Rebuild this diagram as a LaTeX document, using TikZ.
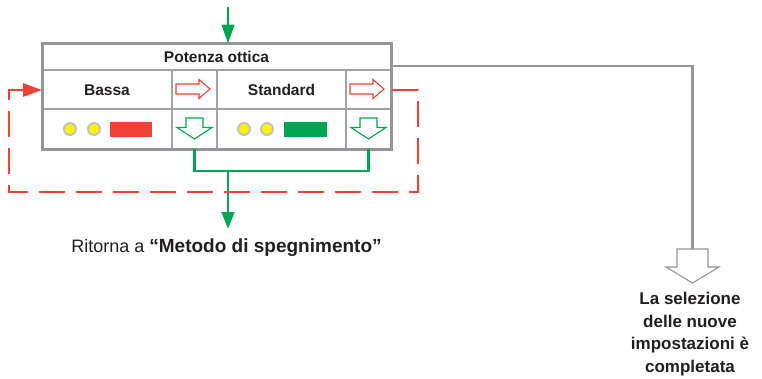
\documentclass[tikz,border=0pt]{standalone}
\usepackage{fontspec}
\setmainfont{Liberation Sans}
\usetikzlibrary{arrows.meta}
\definecolor{tgray}{RGB}{147,149,152}
\definecolor{lgray}{RGB}{160,162,165}
\definecolor{ringgray}{RGB}{195,195,195}
\definecolor{ggreen}{RGB}{0,166,81}
\definecolor{rred}{RGB}{239,65,54}
\definecolor{yyellow}{RGB}{255,242,0}
\definecolor{txt}{RGB}{35,31,32}
\begin{document}
\begin{tikzpicture}[x=1pt,y=-1pt,
  lbl/.style={text=txt,font=\bfseries\fontsize{15.5}{18}\selectfont,inner sep=0},
  grid/.style={draw=lgray,line width=1.4},
  dot/.style={fill=yyellow,draw=ringgray,line width=2},
  greenline/.style={draw=ggreen,line width=2.7},
  redloop/.style={draw=rred,line width=2.8,dash pattern=on 26pt off 11pt},
  rarrow/.pic={\draw[rred,line width=1.1,line join=miter]
      (-17,-5) -- (6,-5) -- (6,-9.5) -- (17,0) -- (6,9.5) -- (6,5) -- (-17,5) -- cycle;},
  darrow/.pic={\draw[ggreen,line width=1.1,line join=miter]
      (-8.5,-10.5) -- (8.5,-10.5) -- (8.5,-1) -- (17.5,-1) -- (0,10.5) -- (-17.5,-1) -- (-8.5,-1) -- cycle;}
]
\useasboundingbox (0,0) rectangle (762,378);

% table grid
\draw[grid] (42,70) -- (391,70);
\draw[grid] (42,109) -- (391,109);
\draw[grid] (172,70) -- (172,149);
\draw[grid] (217,70) -- (217,149);
\draw[grid] (346,70) -- (346,149);
\node[draw=tgray,line width=3,minimum width=349,minimum height=106,inner sep=0] (tbl) at (216.5,96) {};

% texts
\node[lbl] (title) at (216.5,57) {Potenza ottica};
\node[lbl] (bassa) at (107,90) {Bassa};
\node[lbl] (standard) at (281.5,90) {Standard};

% hollow arrows in cells
\pic at (193,89) {rarrow};
\pic at (367,89) {rarrow};
\pic at (194.5,128.5) {darrow};
\pic at (368.5,128.5) {darrow};

% indicators
\draw[dot] (70,129) circle (6);
\draw[dot] (94,129) circle (6);
\fill[rred] (110,122) rectangle (152,136.5);
\draw[dot] (244,129) circle (6);
\draw[dot] (267,129) circle (6);
\fill[ggreen] (284,122) rectangle (327,136.5);

% coordinates for connectors
\coordinate (topin) at (228,7);
\coordinate (tbltop) at (228,43.5);
\coordinate (dl) at (194.5,149);
\coordinate (dr) at (368.5,149);
\coordinate (jl) at (194.5,171);
\coordinate (jr) at (368.5,171);
\coordinate (jm) at (228,171);
\coordinate (gout) at (228,229);
\coordinate (rstart) at (392,90);
\coordinate (rc1) at (418,90);
\coordinate (rc2) at (418,192);
\coordinate (rc3) at (9,192);
\coordinate (rc4) at (9,90);
\coordinate (rend) at (42,90);
\coordinate (gstart) at (391,66);
\coordinate (gc) at (692.5,66);

% green top arrow
\draw[greenline,-{Triangle[length=19pt,width=12.5pt]}] (topin) -- (tbltop);
% green return
\draw[greenline] (dl) -- (jl) -- (jr) -- (dr);
\draw[greenline,-{Triangle[length=17pt,width=12.5pt]}] (jm) -- (gout);

% red dashed loop
\draw[redloop,-{Triangle[length=19pt,width=13pt]}] (rstart) -- (rc1) -- (rc2) -- (rc3) -- (rc4) -- (rend);

% big gray arrow
\draw[tgray,line width=1.1,line join=miter]
  (677,249) -- (708,249) -- (708,267) -- (719,267) -- (692.5,283) -- (666,267) -- (677,267) -- cycle;
\coordinate (gend) at (692.5,249);
\draw[tgray,line width=2.8] (gstart) -- (gc) -- (gend);

% label texts
\node[text=txt,font=\fontsize{18}{20}\selectfont,anchor=base,inner sep=0] (ritorna) at (226.5,252)
  {Ritorna a {\fontsize{19}{20}\selectfont\bfseries “Metodo di spegnimento”}};
\node[text=txt,font=\bfseries\fontsize{17}{22.6}\selectfont,align=center,anchor=north,inner sep=0] (done) at (690,292)
  {La selezione\\delle nuove\\impostazioni è\\completata};
\end{tikzpicture}
\end{document}
